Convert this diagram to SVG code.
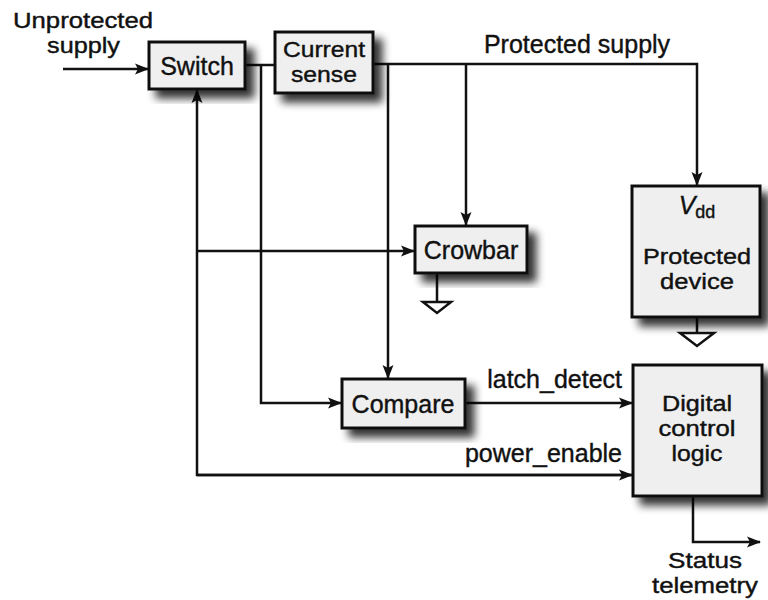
<svg xmlns="http://www.w3.org/2000/svg" width="768" height="600" viewBox="0 0 768 600">
<defs>
<filter id="shadow" x="-20%" y="-20%" width="150%" height="150%">
<feOffset in="SourceAlpha" dx="8" dy="8" result="o"/>
<feGaussianBlur in="o" stdDeviation="4" result="b"/>
<feComponentTransfer in="b" result="s"><feFuncA type="linear" slope="0.8"/></feComponentTransfer>
<feMerge><feMergeNode in="s"/><feMergeNode in="SourceGraphic"/></feMerge>
</filter>
<marker id="arr" markerWidth="14" markerHeight="12" refX="13" refY="6" orient="auto" markerUnits="userSpaceOnUse">
<path d="M0,0.5 L14,6 L0,11.5 L3,6 z" fill="#111"/>
</marker>
</defs>
<style>
text{font-family:"Liberation Sans",Arial,sans-serif;font-size:25px;fill:#111;stroke:#111;stroke-width:0.4}
.m{font-size:22px}
.box{fill:#efefef;stroke:#111;stroke-width:3}
.ln{fill:none;stroke:#111;stroke-width:2.5}
.gnd{fill:#fff;stroke:#111;stroke-width:2.5}
.c{text-anchor:middle}
</style>
<rect width="768" height="600" fill="#fff"/>
<g id="connectors">
<path class="ln" d="M63,69 H148" marker-end="url(#arr)"/>
<path class="ln" d="M245,65 H275"/>
<path class="ln" d="M261,65 V403 H341" marker-end="url(#arr)"/>
<path class="ln" d="M373,64 H697 V185" marker-end="url(#arr)"/>
<path class="ln" d="M388,64 V378" marker-end="url(#arr)"/>
<path class="ln" d="M466,64 V225" marker-end="url(#arr)"/>
<path class="ln" d="M632,475 H197 V90" marker-end="url(#arr)"/>
<path class="ln" d="M197,475 H632" marker-end="url(#arr)"/>
<path class="ln" d="M197,251 H414" marker-end="url(#arr)"/>
<path class="ln" d="M465,403 H632" marker-end="url(#arr)"/>
<path class="ln" d="M693,496 V542 H760" marker-end="url(#arr)"/>
<path class="ln" d="M437,273 V302"/>
<path class="gnd" d="M423,302 H451 L437,313 z"/>
<path class="ln" d="M697,317 V333"/>
<path class="gnd" d="M680,333 H714 L697,346 z"/>
</g>
<g id="labels">
<text x="13" y="28" class="m" textLength="140" lengthAdjust="spacingAndGlyphs">Unprotected</text>
<text x="47" y="53" class="m" textLength="73" lengthAdjust="spacingAndGlyphs">supply</text>
<text x="577" y="53" class="c">Protected supply</text>
<text x="622" y="388" text-anchor="end">latch_detect</text>
<text x="622" y="462" text-anchor="end">power_enable</text>
<text x="705" y="568" class="c m" textLength="74" lengthAdjust="spacingAndGlyphs">Status</text>
<text x="705" y="593" class="c m" textLength="106" lengthAdjust="spacingAndGlyphs">telemetry</text>
</g>
<g id="switch">
<rect class="box" x="149" y="42" width="96" height="47" filter="url(#shadow)"/>
<text x="197" y="75" class="c">Switch</text>
</g>
<g id="current-sense">
<rect class="box" x="275" y="32" width="98" height="61" filter="url(#shadow)"/>
<text x="324" y="57" class="c m" textLength="82" lengthAdjust="spacingAndGlyphs">Current</text>
<text x="324" y="82" class="c m" textLength="66" lengthAdjust="spacingAndGlyphs">sense</text>
</g>
<g id="crowbar">
<rect class="box" x="415" y="226" width="112" height="47" filter="url(#shadow)"/>
<text x="471" y="259" class="c">Crowbar</text>
</g>
<g id="protected-device">
<rect class="box" x="632" y="186" width="128" height="131" filter="url(#shadow)"/>
<text x="697" y="214" class="c"><tspan font-style="italic">V</tspan><tspan font-size="18" dy="4">dd</tspan></text>
<text x="697" y="264" class="c m" textLength="108" lengthAdjust="spacingAndGlyphs">Protected</text>
<text x="697" y="289" class="c m" textLength="74" lengthAdjust="spacingAndGlyphs">device</text>
</g>
<g id="compare">
<rect class="box" x="342" y="379" width="123" height="49" filter="url(#shadow)"/>
<text x="403" y="413" class="c">Compare</text>
</g>
<g id="digital-control">
<rect class="box" x="633" y="365" width="129" height="131" filter="url(#shadow)"/>
<text x="697" y="411" class="c m" textLength="70" lengthAdjust="spacingAndGlyphs">Digital</text>
<text x="697" y="436" class="c m" textLength="77" lengthAdjust="spacingAndGlyphs">control</text>
<text x="697" y="461" class="c m" textLength="51" lengthAdjust="spacingAndGlyphs">logic</text>
</g>
</svg>
